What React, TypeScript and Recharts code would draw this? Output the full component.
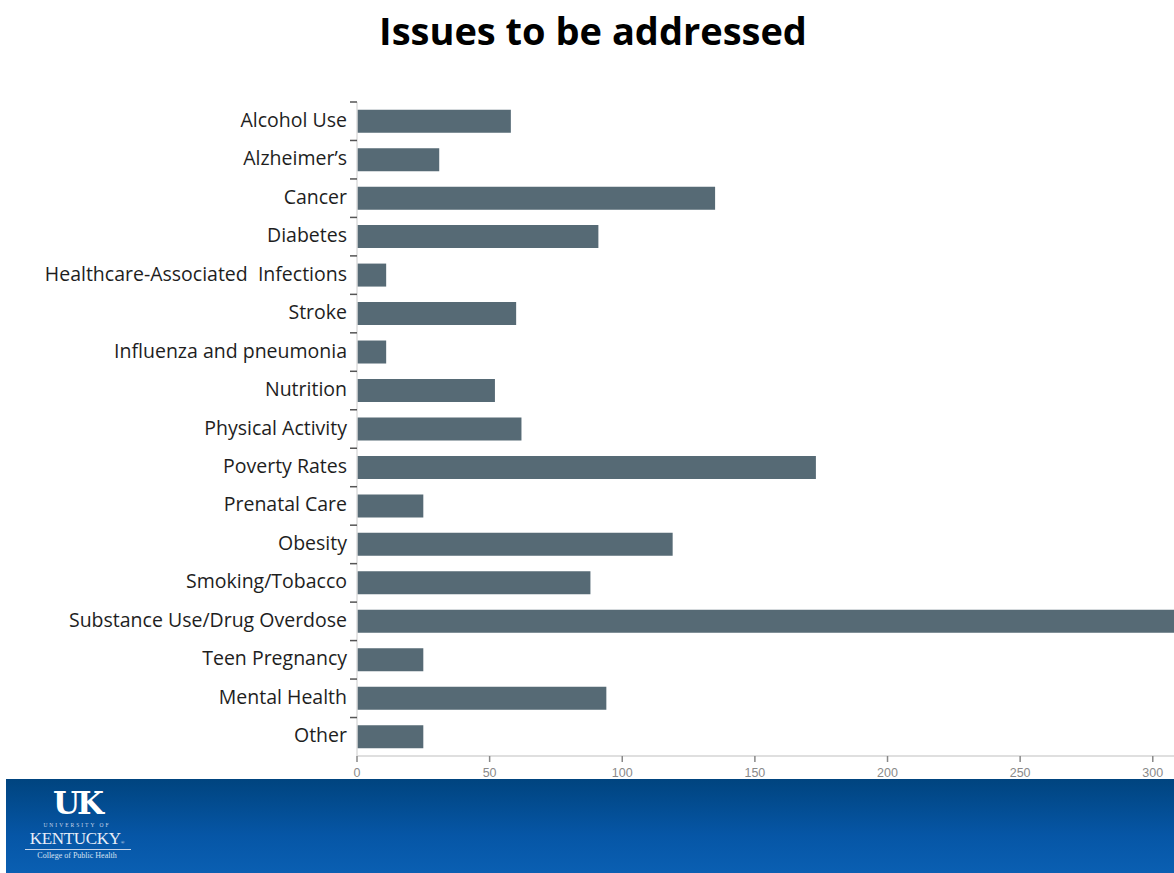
import React from "react";
import { BarChart, Bar, XAxis, YAxis, Cell } from "recharts";

const categories = [
  "Alcohol Use",
  "Alzheimer\u2019s",
  "Cancer",
  "Diabetes",
  "Healthcare-Associated  Infections",
  "Stroke",
  "Influenza and pneumonia",
  "Nutrition",
  "Physical Activity",
  "Poverty Rates",
  "Prenatal Care",
  "Obesity",
  "Smoking/Tobacco",
  "Substance Use/Drug Overdose",
  "Teen Pregnancy",
  "Mental Health",
  "Other",
];
const counts = [58, 31, 135, 91, 11, 60, 11, 52, 62, 173, 25, 119, 88, 312, 25, 94, 25];
const xTicks = [0, 50, 100, 150, 200, 250, 300];
const title = "Issues to be addressed";

const data = categories.map((name, i) => ({ name, value: counts[i] }));

const CHART_W = 1174;
const CHART_H = 790;
const MARGIN_TOP = 102;
const MARGIN_BOTTOM = 11;
const X_AXIS_H = 23;
const Y_AXIS_W = 357;
const PLOT_H = CHART_H - MARGIN_TOP - MARGIN_BOTTOM - X_AXIS_H;
const HALF_BAND = PLOT_H / categories.length / 2;
const TICK_GAP = 10;

const YTick = (props: any) => {
  const { x, y, payload } = props;
  const axisX = x + TICK_GAP;
  return (
    <g>
      <line x1={axisX - 7} x2={axisX} y1={y - HALF_BAND} y2={y - HALF_BAND} stroke="#555" strokeWidth={1.5} />
      <text
        x={x}
        y={y - 2}
        textAnchor="end"
        dominantBaseline="central"
        fontFamily="'Open Sans', sans-serif"
        fontSize={19.5}
        fill="#1e1e1e"
        style={{ whiteSpace: "pre" }}
      >
        {payload.value}
      </text>
    </g>
  );
};

const logoBox: React.CSSProperties = {
  position: "absolute",
  left: 11,
  width: 120,
  textAlign: "center",
  whiteSpace: "nowrap",
};

export default function App() {
  return (
    <div
      style={{
        position: "absolute",
        left: 0,
        top: 0,
        width: 1174,
        height: 873,
        background: "#ffffff",
        overflow: "hidden",
      }}
    >
      <div
        style={{
          position: "absolute",
          left: 0,
          top: 5,
          width: 1186,
          textAlign: "center",
          fontFamily: "'Open Sans', sans-serif",
          fontWeight: 700,
          fontSize: 38,
          color: "#000",
          lineHeight: "50px",
        }}
      >
        {title}
      </div>
      <div style={{ position: "absolute", left: 0, top: 0 }}>
        <BarChart
          width={CHART_W}
          height={CHART_H}
          data={data}
          layout="vertical"
          margin={{ top: MARGIN_TOP, right: 0, bottom: MARGIN_BOTTOM, left: 0 }}
          barCategoryGap="20%"
          style={{ overflow: "visible" }}
        >
          <XAxis
            type="number"
            domain={[0, 308]}
            ticks={xTicks}
            allowDataOverflow
            height={X_AXIS_H}
            axisLine={{ stroke: "#d4d4d4", strokeWidth: 1.5 }}
            tickLine={{ stroke: "#888", strokeWidth: 1.5 }}
            tickSize={6}
            tickMargin={6}
            tick={{ fill: "#8a8a8a", fontSize: 12.5, fontFamily: "'Liberation Sans', Arial, sans-serif" }}
            interval={0}
          />
          <YAxis
            type="category"
            dataKey="name"
            width={Y_AXIS_W}
            axisLine={{ stroke: "#dcdcdc", strokeWidth: 1.5 }}
            tickLine={false}
            tickSize={0}
            tickMargin={TICK_GAP}
            tick={<YTick />}
            interval={0}
          />
          <Bar dataKey="value" fill="#566a75" isAnimationActive={false}>
            {data.map((d) => (
              <Cell key={d.name} fill="#566a75" />
            ))}
          </Bar>
        </BarChart>
      </div>
      <div
        style={{
          position: "absolute",
          left: 6,
          top: 779,
          width: 1168,
          height: 94,
          background: "linear-gradient(180deg, #00447f 0%, #0656a6 60%, #0a5fb2 100%)",
        }}
      >
        <div
          style={{
            ...logoBox,
            top: 6,
            fontFamily: "'DejaVu Serif', 'Liberation Serif', serif",
            fontWeight: 700,
            fontSize: 31,
            color: "#fff",
            letterSpacing: -3,
            lineHeight: "36px",
          }}
        >
          UK
        </div>
        <div
          style={{
            ...logoBox,
            top: 43,
            fontFamily: "'Liberation Serif', serif",
            fontSize: 5.5,
            lineHeight: "6px",
            letterSpacing: 2,
            color: "#c8d6ea",
          }}
        >
          UNIVERSITY OF
        </div>
        <div
          style={{
            ...logoBox,
            top: 49.5,
            fontFamily: "'Liberation Serif', serif",
            fontSize: 17,
            color: "#e8eef8",
            lineHeight: "19px",
            letterSpacing: -0.3,
          }}
        >
          KENTUCKY
          <span style={{ fontSize: 5 }}>{"\u00ae"}</span>
        </div>
        <div style={{ position: "absolute", left: 19, top: 69.5, width: 106, height: 1, background: "#c8d6ea" }} />
        <div
          style={{
            ...logoBox,
            top: 72,
            fontFamily: "'Liberation Serif', serif",
            fontSize: 8,
            lineHeight: "9px",
            color: "#d8e2f2",
          }}
        >
          College of Public Health
        </div>
      </div>
    </div>
  );
}
